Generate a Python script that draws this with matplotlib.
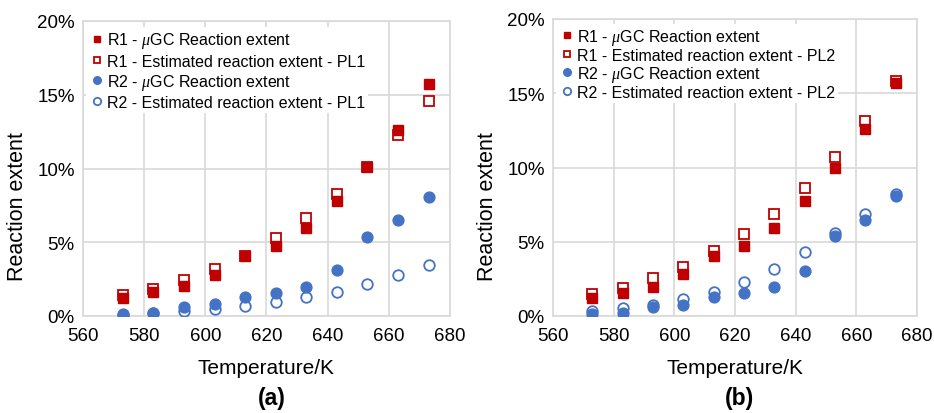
import matplotlib
matplotlib.use("Agg")
import matplotlib.pyplot as plt
from matplotlib.ticker import FuncFormatter

plt.rcParams['font.family'] = ['Liberation Sans', 'DejaVu Sans']
plt.rcParams['mathtext.fontset'] = 'custom'
plt.rcParams['mathtext.it'] = 'Liberation Serif:italic'
plt.rcParams['mathtext.rm'] = 'Liberation Sans'

temps = [573, 583, 593, 603, 613, 623, 633, 643, 653, 663, 673]

# Panel (a)
a_r1_gc = [1.24, 1.63, 2.03, 2.80, 4.09, 4.75, 6.00, 7.80, 10.10, 12.60, 15.70]
a_r1_pl1 = [1.40, 1.80, 2.44, 3.20, 4.10, 5.27, 6.64, 8.30, 10.10, 12.25, 14.60]
a_r2_gc = [0.16, 0.23, 0.60, 0.81, 1.29, 1.58, 1.94, 3.12, 5.38, 6.50, 8.09]
a_r2_pl1 = [0.10, 0.20, 0.32, 0.45, 0.66, 0.93, 1.27, 1.63, 2.19, 2.80, 3.46]

# Panel (b)
b_r1_gc = [1.19, 1.58, 1.96, 2.84, 4.05, 4.70, 5.95, 7.75, 10.00, 12.60, 15.70]
b_r1_pl2 = [1.49, 1.91, 2.55, 3.33, 4.39, 5.50, 6.87, 8.60, 10.72, 13.15, 15.83]
b_r2_gc = [0.11, 0.22, 0.63, 0.77, 1.28, 1.53, 1.94, 3.06, 5.36, 6.49, 8.10]
b_r2_pl2 = [0.34, 0.52, 0.77, 1.13, 1.62, 2.27, 3.15, 4.28, 5.59, 6.87, 8.20]

x_ticks = [560, 580, 600, 620, 640, 660, 680]
y_ticks = [0, 5, 10, 15, 20]

RED = '#C00000'
BLUE = '#4472C4'
GRID = '#D9D9D9'

W, H = 934, 414
fig = plt.figure(figsize=(W / 100, H / 100), dpi=100)


def make_axes(l, r, t, b):
    return fig.add_axes([l / W, 1 - b / H, (r - l) / W, (b - t) / H])


def style(ax, tag, ylab_x, panel_x, lab_spacing, anchor_y):
    ax.set_xlim(560, 680)
    ax.set_ylim(0, 20)
    ax.set_xticks(x_ticks)
    ax.set_yticks(y_ticks)
    ax.yaxis.set_major_formatter(FuncFormatter(lambda v, p: f"{int(v)}%"))
    ax.grid(True, color=GRID, linewidth=1.2, zorder=0)
    ax.set_axisbelow(True)
    for s in ax.spines.values():
        s.set_color(GRID)
        s.set_linewidth(1.2)
    ax.tick_params(length=0, labelsize=13.5, colors='black')
    ax.tick_params(axis='x', pad=8)
    ax.tick_params(axis='y', pad=6)
    ax.set_xlabel('Temperature/K', fontsize=15, labelpad=10)
    ax.set_ylabel('Reaction extent', fontsize=15.5)
    ax.yaxis.set_label_coords(ylab_x, 0.5, transform=fig.transFigure)
    fig.text(panel_x / W, 1 - 399 / H, tag, ha='center', va='center',
             fontsize=16.5, fontweight='bold')
    leg = ax.legend(loc='upper left', bbox_to_anchor=(0.0, anchor_y), fontsize=11.5,
                    frameon=True, fancybox=False, framealpha=1, facecolor='white',
                    edgecolor='none', handletextpad=0.1, handlelength=1.0,
                    labelspacing=lab_spacing, borderpad=0.2, borderaxespad=0.2,
                    markerscale=0.7)
    leg.set_zorder(5)


def draw(ax, r1, r1e, r2, r2e, pl):
    ax.plot(temps, r1, linestyle='none', marker='s', markersize=6.8, color=RED,
            markeredgecolor=RED, label=r'R1 - $\mu$GC Reaction extent', zorder=3)
    ax.plot(temps, r1e, linestyle='none', marker='s', markersize=6.8,
            markerfacecolor='none', markeredgecolor=RED, markeredgewidth=1.3,
            label=f'R1 - Estimated reaction extent - {pl}', zorder=3)
    ax.plot(temps, r2, linestyle='none', marker='o', markersize=7.8, color=BLUE,
            markeredgecolor=BLUE, label=r'R2 - $\mu$GC Reaction extent', zorder=3)
    ax.plot(temps, r2e, linestyle='none', marker='o', markersize=7.6,
            markerfacecolor='none', markeredgecolor=BLUE, markeredgewidth=1.3,
            label=f'R2 - Estimated reaction extent - {pl}', zorder=3)


ax1 = make_axes(83, 450, 22, 317)
draw(ax1, a_r1_gc, a_r1_pl1, a_r2_gc, a_r2_pl1, 'PL1')
style(ax1, '(a)', 28 / W, 272, 0.2, 0.99)

ax2 = make_axes(553, 917, 20, 317)
draw(ax2, b_r1_gc, b_r1_pl2, b_r2_gc, b_r2_pl2, 'PL2')
style(ax2, '(b)', 498 / W, 740, 0.06, 0.995)

fig.savefig('out.png', dpi=100)
